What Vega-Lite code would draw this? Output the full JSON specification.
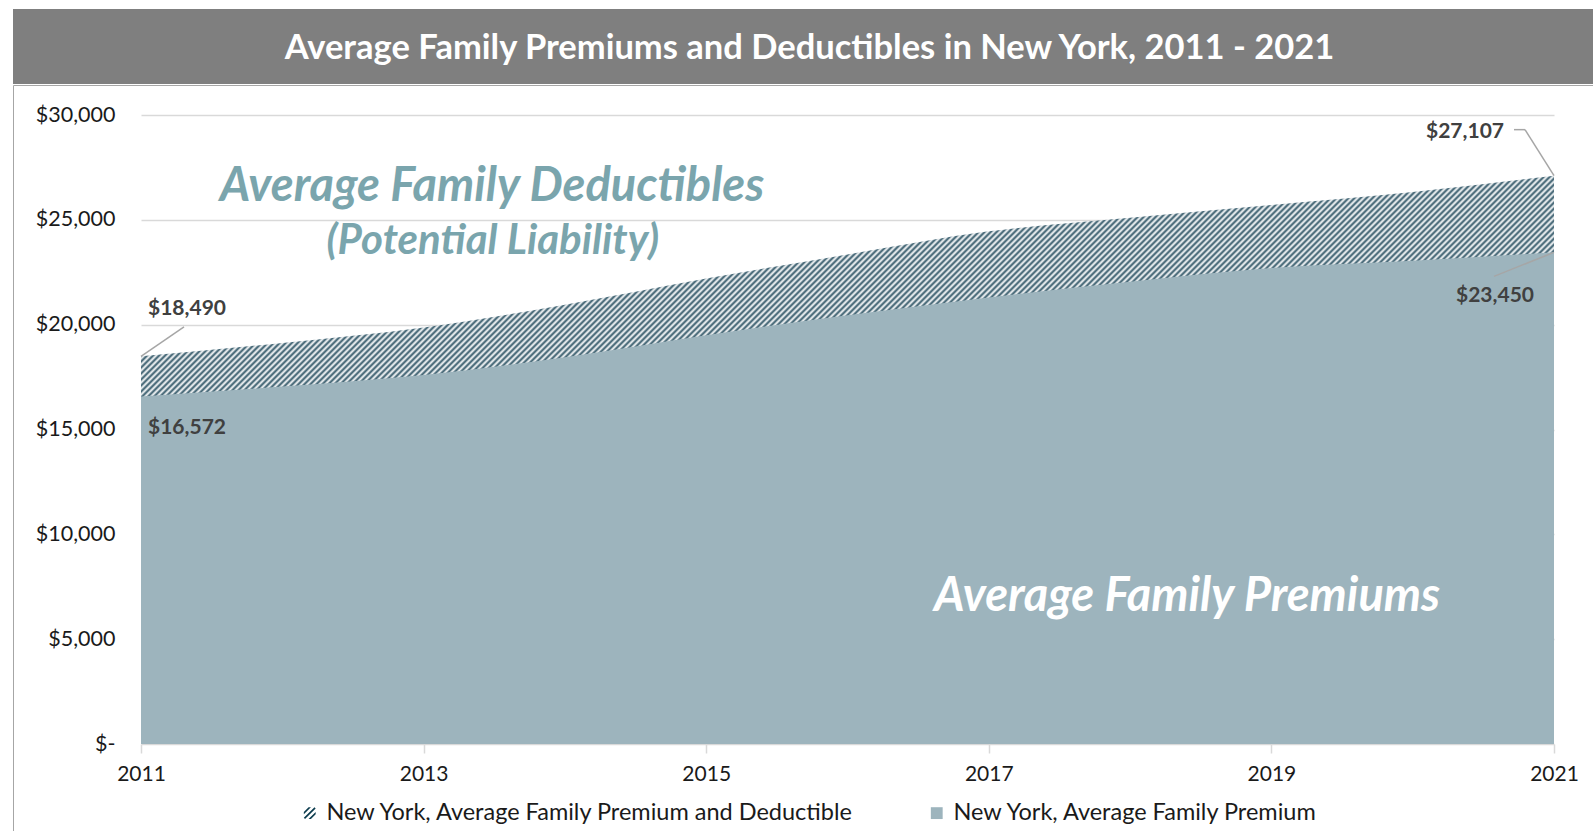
{
"$schema": "https://vega.github.io/schema/vega-lite/v6.json",
"padding": {"left": 12, "top": 9, "right": 0, "bottom": 0},
"spacing": 0,
"config": {"font": "Lato"},
"vconcat": [
{
"width": 1581, "height": 75,
"view": {"fill": "#7f7f7f", "stroke": null},
"data": {"values": [{}]},
"mark": {"type": "text", "font": "Lato", "fontSize": 34.5, "fontWeight": "bold", "color": "#ffffff", "align": "center", "baseline": "middle", "dy": 2, "dx": 6},
"encoding": {"text": {"value": "Average Family Premiums and Deductibles in New York, 2011 - 2021"}}
},
{
"width": 1580, "height": 746,
"view": {"stroke": "#a6a6a6", "strokeWidth": 1, "fill": "#ffffff"},
"data": {"values": [
{"year": 2011, "premium": 16572, "total": 18490},
{"year": 2012, "premium": 17050, "total": 19130},
{"year": 2013, "premium": 17600, "total": 19870},
{"year": 2014, "premium": 18450, "total": 20950},
{"year": 2015, "premium": 19500, "total": 22200},
{"year": 2016, "premium": 20450, "total": 23350},
{"year": 2017, "premium": 21300, "total": 24450},
{"year": 2018, "premium": 22050, "total": 25100},
{"year": 2019, "premium": 22700, "total": 25710},
{"year": 2020, "premium": 23050, "total": 26330},
{"year": 2021, "premium": 23450, "total": 27107}
]},
"layer": [
{
"data": {"values": [{"series": "New York, Average Family Premium and Deductible"}, {"series": "New York, Average Family Premium"}]},
"mark": {"type": "point", "filled": true, "size": 20, "opacity": 1},
"encoding": {
"color": {"field": "series", "type": "nominal", "scale": {"domain": ["New York, Average Family Premium and Deductible", "New York, Average Family Premium"], "range": ["#0b3b4d", "#9db4bd"]}, "legend": {"title": null, "orient": "none", "legendX": 285, "legendY": 792, "direction": "horizontal", "labelFont": "Lato", "labelFontSize": 23.5, "labelColor": "#1a1a1a", "labelLimit": 800, "symbolSize": 140, "symbolStrokeWidth": 0, "symbolOpacity": 1, "labelOffset": 5, "columnPadding": 70, "padding": 0}},
"shape": {"field": "series", "type": "nominal", "scale": {"domain": ["New York, Average Family Premium and Deductible", "New York, Average Family Premium"], "range": ["M-1,0.8L0.8,-1L1,-0.8L-0.8,1ZM-0.2,1L1,-0.2L1,0.2L0.2,1ZM-1,0.2L0.2,-1L-0.2,-1L-1,-0.2Z", "square"]}, "legend": {"title": null, "orient": "none", "legendX": 285, "legendY": 792, "direction": "horizontal", "labelFont": "Lato", "labelFontSize": 23.5, "labelColor": "#1a1a1a", "labelLimit": 800, "symbolSize": 140, "symbolStrokeWidth": 0, "symbolOpacity": 1, "labelOffset": 5, "columnPadding": 70, "padding": 0}}
}
},
{
"mark": {"type": "area", "interpolate": "monotone", "opacity": 1, "fill": {"gradient": "linear", "x1": 0, "y1": 0, "x2": 0.9137, "y2": 0.3675, "stops": [
{"offset":0.000,"color":"#2f5566"},{"offset":0.002,"color":"#fff"},{"offset":0.004,"color":"#2f5566"},{"offset":0.006,"color":"#fff"},{"offset":0.008,"color":"#2f5566"},{"offset":0.010,"color":"#fff"},{"offset":0.012,"color":"#2f5566"},{"offset":0.014,"color":"#fff"},{"offset":0.016,"color":"#2f5566"},{"offset":0.018,"color":"#fff"},
{"offset":0.020,"color":"#2f5566"},{"offset":0.022,"color":"#fff"},{"offset":0.024,"color":"#2f5566"},{"offset":0.026,"color":"#fff"},{"offset":0.028,"color":"#2f5566"},{"offset":0.030,"color":"#fff"},{"offset":0.032,"color":"#2f5566"},{"offset":0.034,"color":"#fff"},{"offset":0.036,"color":"#2f5566"},{"offset":0.038,"color":"#fff"},
{"offset":0.040,"color":"#2f5566"},{"offset":0.042,"color":"#fff"},{"offset":0.044,"color":"#2f5566"},{"offset":0.046,"color":"#fff"},{"offset":0.048,"color":"#2f5566"},{"offset":0.050,"color":"#fff"},{"offset":0.052,"color":"#2f5566"},{"offset":0.054,"color":"#fff"},{"offset":0.056,"color":"#2f5566"},{"offset":0.058,"color":"#fff"},
{"offset":0.060,"color":"#2f5566"},{"offset":0.062,"color":"#fff"},{"offset":0.064,"color":"#2f5566"},{"offset":0.066,"color":"#fff"},{"offset":0.068,"color":"#2f5566"},{"offset":0.070,"color":"#fff"},{"offset":0.072,"color":"#2f5566"},{"offset":0.074,"color":"#fff"},{"offset":0.076,"color":"#2f5566"},{"offset":0.078,"color":"#fff"},
{"offset":0.080,"color":"#2f5566"},{"offset":0.082,"color":"#fff"},{"offset":0.084,"color":"#2f5566"},{"offset":0.086,"color":"#fff"},{"offset":0.088,"color":"#2f5566"},{"offset":0.090,"color":"#fff"},{"offset":0.092,"color":"#2f5566"},{"offset":0.094,"color":"#fff"},{"offset":0.096,"color":"#2f5566"},{"offset":0.098,"color":"#fff"},
{"offset":0.100,"color":"#2f5566"},{"offset":0.102,"color":"#fff"},{"offset":0.104,"color":"#2f5566"},{"offset":0.106,"color":"#fff"},{"offset":0.108,"color":"#2f5566"},{"offset":0.110,"color":"#fff"},{"offset":0.112,"color":"#2f5566"},{"offset":0.114,"color":"#fff"},{"offset":0.116,"color":"#2f5566"},{"offset":0.118,"color":"#fff"},
{"offset":0.120,"color":"#2f5566"},{"offset":0.122,"color":"#fff"},{"offset":0.124,"color":"#2f5566"},{"offset":0.126,"color":"#fff"},{"offset":0.128,"color":"#2f5566"},{"offset":0.130,"color":"#fff"},{"offset":0.132,"color":"#2f5566"},{"offset":0.134,"color":"#fff"},{"offset":0.136,"color":"#2f5566"},{"offset":0.138,"color":"#fff"},
{"offset":0.140,"color":"#2f5566"},{"offset":0.142,"color":"#fff"},{"offset":0.144,"color":"#2f5566"},{"offset":0.146,"color":"#fff"},{"offset":0.148,"color":"#2f5566"},{"offset":0.150,"color":"#fff"},{"offset":0.152,"color":"#2f5566"},{"offset":0.154,"color":"#fff"},{"offset":0.156,"color":"#2f5566"},{"offset":0.158,"color":"#fff"},
{"offset":0.160,"color":"#2f5566"},{"offset":0.162,"color":"#fff"},{"offset":0.164,"color":"#2f5566"},{"offset":0.166,"color":"#fff"},{"offset":0.168,"color":"#2f5566"},{"offset":0.170,"color":"#fff"},{"offset":0.172,"color":"#2f5566"},{"offset":0.174,"color":"#fff"},{"offset":0.176,"color":"#2f5566"},{"offset":0.178,"color":"#fff"},
{"offset":0.180,"color":"#2f5566"},{"offset":0.182,"color":"#fff"},{"offset":0.184,"color":"#2f5566"},{"offset":0.186,"color":"#fff"},{"offset":0.188,"color":"#2f5566"},{"offset":0.190,"color":"#fff"},{"offset":0.192,"color":"#2f5566"},{"offset":0.194,"color":"#fff"},{"offset":0.196,"color":"#2f5566"},{"offset":0.198,"color":"#fff"},
{"offset":0.200,"color":"#2f5566"},{"offset":0.202,"color":"#fff"},{"offset":0.204,"color":"#2f5566"},{"offset":0.206,"color":"#fff"},{"offset":0.208,"color":"#2f5566"},{"offset":0.210,"color":"#fff"},{"offset":0.212,"color":"#2f5566"},{"offset":0.214,"color":"#fff"},{"offset":0.216,"color":"#2f5566"},{"offset":0.218,"color":"#fff"},
{"offset":0.220,"color":"#2f5566"},{"offset":0.222,"color":"#fff"},{"offset":0.224,"color":"#2f5566"},{"offset":0.226,"color":"#fff"},{"offset":0.228,"color":"#2f5566"},{"offset":0.230,"color":"#fff"},{"offset":0.232,"color":"#2f5566"},{"offset":0.234,"color":"#fff"},{"offset":0.236,"color":"#2f5566"},{"offset":0.238,"color":"#fff"},
{"offset":0.240,"color":"#2f5566"},{"offset":0.242,"color":"#fff"},{"offset":0.244,"color":"#2f5566"},{"offset":0.246,"color":"#fff"},{"offset":0.248,"color":"#2f5566"},{"offset":0.250,"color":"#fff"},{"offset":0.252,"color":"#2f5566"},{"offset":0.254,"color":"#fff"},{"offset":0.256,"color":"#2f5566"},{"offset":0.258,"color":"#fff"},
{"offset":0.260,"color":"#2f5566"},{"offset":0.262,"color":"#fff"},{"offset":0.264,"color":"#2f5566"},{"offset":0.266,"color":"#fff"},{"offset":0.268,"color":"#2f5566"},{"offset":0.270,"color":"#fff"},{"offset":0.272,"color":"#2f5566"},{"offset":0.274,"color":"#fff"},{"offset":0.276,"color":"#2f5566"},{"offset":0.278,"color":"#fff"},
{"offset":0.280,"color":"#2f5566"},{"offset":0.282,"color":"#fff"},{"offset":0.284,"color":"#2f5566"},{"offset":0.286,"color":"#fff"},{"offset":0.288,"color":"#2f5566"},{"offset":0.290,"color":"#fff"},{"offset":0.292,"color":"#2f5566"},{"offset":0.294,"color":"#fff"},{"offset":0.296,"color":"#2f5566"},{"offset":0.298,"color":"#fff"},
{"offset":0.300,"color":"#2f5566"},{"offset":0.302,"color":"#fff"},{"offset":0.304,"color":"#2f5566"},{"offset":0.306,"color":"#fff"},{"offset":0.308,"color":"#2f5566"},{"offset":0.310,"color":"#fff"},{"offset":0.312,"color":"#2f5566"},{"offset":0.314,"color":"#fff"},{"offset":0.316,"color":"#2f5566"},{"offset":0.318,"color":"#fff"},
{"offset":0.320,"color":"#2f5566"},{"offset":0.322,"color":"#fff"},{"offset":0.324,"color":"#2f5566"},{"offset":0.326,"color":"#fff"},{"offset":0.328,"color":"#2f5566"},{"offset":0.330,"color":"#fff"},{"offset":0.332,"color":"#2f5566"},{"offset":0.334,"color":"#fff"},{"offset":0.336,"color":"#2f5566"},{"offset":0.338,"color":"#fff"},
{"offset":0.340,"color":"#2f5566"},{"offset":0.342,"color":"#fff"},{"offset":0.344,"color":"#2f5566"},{"offset":0.346,"color":"#fff"},{"offset":0.348,"color":"#2f5566"},{"offset":0.350,"color":"#fff"},{"offset":0.352,"color":"#2f5566"},{"offset":0.354,"color":"#fff"},{"offset":0.356,"color":"#2f5566"},{"offset":0.358,"color":"#fff"},
{"offset":0.360,"color":"#2f5566"},{"offset":0.362,"color":"#fff"},{"offset":0.364,"color":"#2f5566"},{"offset":0.366,"color":"#fff"},{"offset":0.368,"color":"#2f5566"},{"offset":0.370,"color":"#fff"},{"offset":0.372,"color":"#2f5566"},{"offset":0.374,"color":"#fff"},{"offset":0.376,"color":"#2f5566"},{"offset":0.378,"color":"#fff"},
{"offset":0.380,"color":"#2f5566"},{"offset":0.382,"color":"#fff"},{"offset":0.384,"color":"#2f5566"},{"offset":0.386,"color":"#fff"},{"offset":0.388,"color":"#2f5566"},{"offset":0.390,"color":"#fff"},{"offset":0.392,"color":"#2f5566"},{"offset":0.394,"color":"#fff"},{"offset":0.396,"color":"#2f5566"},{"offset":0.398,"color":"#fff"},
{"offset":0.400,"color":"#2f5566"},{"offset":0.402,"color":"#fff"},{"offset":0.404,"color":"#2f5566"},{"offset":0.406,"color":"#fff"},{"offset":0.408,"color":"#2f5566"},{"offset":0.410,"color":"#fff"},{"offset":0.412,"color":"#2f5566"},{"offset":0.414,"color":"#fff"},{"offset":0.416,"color":"#2f5566"},{"offset":0.418,"color":"#fff"},
{"offset":0.420,"color":"#2f5566"},{"offset":0.422,"color":"#fff"},{"offset":0.424,"color":"#2f5566"},{"offset":0.426,"color":"#fff"},{"offset":0.428,"color":"#2f5566"},{"offset":0.430,"color":"#fff"},{"offset":0.432,"color":"#2f5566"},{"offset":0.434,"color":"#fff"},{"offset":0.436,"color":"#2f5566"},{"offset":0.438,"color":"#fff"},
{"offset":0.440,"color":"#2f5566"},{"offset":0.442,"color":"#fff"},{"offset":0.444,"color":"#2f5566"},{"offset":0.446,"color":"#fff"},{"offset":0.448,"color":"#2f5566"},{"offset":0.450,"color":"#fff"},{"offset":0.452,"color":"#2f5566"},{"offset":0.454,"color":"#fff"},{"offset":0.456,"color":"#2f5566"},{"offset":0.458,"color":"#fff"},
{"offset":0.460,"color":"#2f5566"},{"offset":0.462,"color":"#fff"},{"offset":0.464,"color":"#2f5566"},{"offset":0.466,"color":"#fff"},{"offset":0.468,"color":"#2f5566"},{"offset":0.470,"color":"#fff"},{"offset":0.472,"color":"#2f5566"},{"offset":0.474,"color":"#fff"},{"offset":0.476,"color":"#2f5566"},{"offset":0.478,"color":"#fff"},
{"offset":0.480,"color":"#2f5566"},{"offset":0.482,"color":"#fff"},{"offset":0.484,"color":"#2f5566"},{"offset":0.486,"color":"#fff"},{"offset":0.488,"color":"#2f5566"},{"offset":0.490,"color":"#fff"},{"offset":0.492,"color":"#2f5566"},{"offset":0.494,"color":"#fff"},{"offset":0.496,"color":"#2f5566"},{"offset":0.498,"color":"#fff"},
{"offset":0.500,"color":"#2f5566"},{"offset":0.502,"color":"#fff"},{"offset":0.504,"color":"#2f5566"},{"offset":0.506,"color":"#fff"},{"offset":0.508,"color":"#2f5566"},{"offset":0.510,"color":"#fff"},{"offset":0.512,"color":"#2f5566"},{"offset":0.514,"color":"#fff"},{"offset":0.516,"color":"#2f5566"},{"offset":0.518,"color":"#fff"},
{"offset":0.520,"color":"#2f5566"},{"offset":0.522,"color":"#fff"},{"offset":0.524,"color":"#2f5566"},{"offset":0.526,"color":"#fff"},{"offset":0.528,"color":"#2f5566"},{"offset":0.530,"color":"#fff"},{"offset":0.532,"color":"#2f5566"},{"offset":0.534,"color":"#fff"},{"offset":0.536,"color":"#2f5566"},{"offset":0.538,"color":"#fff"},
{"offset":0.540,"color":"#2f5566"},{"offset":0.542,"color":"#fff"},{"offset":0.544,"color":"#2f5566"},{"offset":0.546,"color":"#fff"},{"offset":0.548,"color":"#2f5566"},{"offset":0.550,"color":"#fff"},{"offset":0.552,"color":"#2f5566"},{"offset":0.554,"color":"#fff"},{"offset":0.556,"color":"#2f5566"},{"offset":0.558,"color":"#fff"},
{"offset":0.560,"color":"#2f5566"},{"offset":0.562,"color":"#fff"},{"offset":0.564,"color":"#2f5566"},{"offset":0.566,"color":"#fff"},{"offset":0.568,"color":"#2f5566"},{"offset":0.570,"color":"#fff"},{"offset":0.572,"color":"#2f5566"},{"offset":0.574,"color":"#fff"},{"offset":0.576,"color":"#2f5566"},{"offset":0.578,"color":"#fff"},
{"offset":0.580,"color":"#2f5566"},{"offset":0.582,"color":"#fff"},{"offset":0.584,"color":"#2f5566"},{"offset":0.586,"color":"#fff"},{"offset":0.588,"color":"#2f5566"},{"offset":0.590,"color":"#fff"},{"offset":0.592,"color":"#2f5566"},{"offset":0.594,"color":"#fff"},{"offset":0.596,"color":"#2f5566"},{"offset":0.598,"color":"#fff"},
{"offset":0.600,"color":"#2f5566"},{"offset":0.602,"color":"#fff"},{"offset":0.604,"color":"#2f5566"},{"offset":0.606,"color":"#fff"},{"offset":0.608,"color":"#2f5566"},{"offset":0.610,"color":"#fff"},{"offset":0.612,"color":"#2f5566"},{"offset":0.614,"color":"#fff"},{"offset":0.616,"color":"#2f5566"},{"offset":0.618,"color":"#fff"},
{"offset":0.620,"color":"#2f5566"},{"offset":0.622,"color":"#fff"},{"offset":0.624,"color":"#2f5566"},{"offset":0.626,"color":"#fff"},{"offset":0.628,"color":"#2f5566"},{"offset":0.630,"color":"#fff"},{"offset":0.632,"color":"#2f5566"},{"offset":0.634,"color":"#fff"},{"offset":0.636,"color":"#2f5566"},{"offset":0.638,"color":"#fff"},
{"offset":0.640,"color":"#2f5566"},{"offset":0.642,"color":"#fff"},{"offset":0.644,"color":"#2f5566"},{"offset":0.646,"color":"#fff"},{"offset":0.648,"color":"#2f5566"},{"offset":0.650,"color":"#fff"},{"offset":0.652,"color":"#2f5566"},{"offset":0.654,"color":"#fff"},{"offset":0.656,"color":"#2f5566"},{"offset":0.658,"color":"#fff"},
{"offset":0.660,"color":"#2f5566"},{"offset":0.662,"color":"#fff"},{"offset":0.664,"color":"#2f5566"},{"offset":0.666,"color":"#fff"},{"offset":0.668,"color":"#2f5566"},{"offset":0.670,"color":"#fff"},{"offset":0.672,"color":"#2f5566"},{"offset":0.674,"color":"#fff"},{"offset":0.676,"color":"#2f5566"},{"offset":0.678,"color":"#fff"},
{"offset":0.680,"color":"#2f5566"},{"offset":0.682,"color":"#fff"},{"offset":0.684,"color":"#2f5566"},{"offset":0.686,"color":"#fff"},{"offset":0.688,"color":"#2f5566"},{"offset":0.690,"color":"#fff"},{"offset":0.692,"color":"#2f5566"},{"offset":0.694,"color":"#fff"},{"offset":0.696,"color":"#2f5566"},{"offset":0.698,"color":"#fff"},
{"offset":0.700,"color":"#2f5566"},{"offset":0.702,"color":"#fff"},{"offset":0.704,"color":"#2f5566"},{"offset":0.706,"color":"#fff"},{"offset":0.708,"color":"#2f5566"},{"offset":0.710,"color":"#fff"},{"offset":0.712,"color":"#2f5566"},{"offset":0.714,"color":"#fff"},{"offset":0.716,"color":"#2f5566"},{"offset":0.718,"color":"#fff"},
{"offset":0.720,"color":"#2f5566"},{"offset":0.722,"color":"#fff"},{"offset":0.724,"color":"#2f5566"},{"offset":0.726,"color":"#fff"},{"offset":0.728,"color":"#2f5566"},{"offset":0.730,"color":"#fff"},{"offset":0.732,"color":"#2f5566"},{"offset":0.734,"color":"#fff"},{"offset":0.736,"color":"#2f5566"},{"offset":0.738,"color":"#fff"},
{"offset":0.740,"color":"#2f5566"},{"offset":0.742,"color":"#fff"},{"offset":0.744,"color":"#2f5566"},{"offset":0.746,"color":"#fff"},{"offset":0.748,"color":"#2f5566"},{"offset":0.750,"color":"#fff"},{"offset":0.752,"color":"#2f5566"},{"offset":0.754,"color":"#fff"},{"offset":0.756,"color":"#2f5566"},{"offset":0.758,"color":"#fff"},
{"offset":0.760,"color":"#2f5566"},{"offset":0.762,"color":"#fff"},{"offset":0.764,"color":"#2f5566"},{"offset":0.766,"color":"#fff"},{"offset":0.768,"color":"#2f5566"},{"offset":0.770,"color":"#fff"},{"offset":0.772,"color":"#2f5566"},{"offset":0.774,"color":"#fff"},{"offset":0.776,"color":"#2f5566"},{"offset":0.778,"color":"#fff"},
{"offset":0.780,"color":"#2f5566"},{"offset":0.782,"color":"#fff"},{"offset":0.784,"color":"#2f5566"},{"offset":0.786,"color":"#fff"},{"offset":0.788,"color":"#2f5566"},{"offset":0.790,"color":"#fff"},{"offset":0.792,"color":"#2f5566"},{"offset":0.794,"color":"#fff"},{"offset":0.796,"color":"#2f5566"},{"offset":0.798,"color":"#fff"},
{"offset":0.800,"color":"#2f5566"},{"offset":0.802,"color":"#fff"},{"offset":0.804,"color":"#2f5566"},{"offset":0.806,"color":"#fff"},{"offset":0.808,"color":"#2f5566"},{"offset":0.810,"color":"#fff"},{"offset":0.812,"color":"#2f5566"},{"offset":0.814,"color":"#fff"},{"offset":0.816,"color":"#2f5566"},{"offset":0.818,"color":"#fff"},
{"offset":0.820,"color":"#2f5566"},{"offset":0.822,"color":"#fff"},{"offset":0.824,"color":"#2f5566"},{"offset":0.826,"color":"#fff"},{"offset":0.828,"color":"#2f5566"},{"offset":0.830,"color":"#fff"},{"offset":0.832,"color":"#2f5566"},{"offset":0.834,"color":"#fff"},{"offset":0.836,"color":"#2f5566"},{"offset":0.838,"color":"#fff"},
{"offset":0.840,"color":"#2f5566"},{"offset":0.842,"color":"#fff"},{"offset":0.844,"color":"#2f5566"},{"offset":0.846,"color":"#fff"},{"offset":0.848,"color":"#2f5566"},{"offset":0.850,"color":"#fff"},{"offset":0.852,"color":"#2f5566"},{"offset":0.854,"color":"#fff"},{"offset":0.856,"color":"#2f5566"},{"offset":0.858,"color":"#fff"},
{"offset":0.860,"color":"#2f5566"},{"offset":0.862,"color":"#fff"},{"offset":0.864,"color":"#2f5566"},{"offset":0.866,"color":"#fff"},{"offset":0.868,"color":"#2f5566"},{"offset":0.870,"color":"#fff"},{"offset":0.872,"color":"#2f5566"},{"offset":0.874,"color":"#fff"},{"offset":0.876,"color":"#2f5566"},{"offset":0.878,"color":"#fff"},
{"offset":0.880,"color":"#2f5566"},{"offset":0.882,"color":"#fff"},{"offset":0.884,"color":"#2f5566"},{"offset":0.886,"color":"#fff"},{"offset":0.888,"color":"#2f5566"},{"offset":0.890,"color":"#fff"},{"offset":0.892,"color":"#2f5566"},{"offset":0.894,"color":"#fff"},{"offset":0.896,"color":"#2f5566"},{"offset":0.898,"color":"#fff"},
{"offset":0.900,"color":"#2f5566"},{"offset":0.902,"color":"#fff"},{"offset":0.904,"color":"#2f5566"},{"offset":0.906,"color":"#fff"},{"offset":0.908,"color":"#2f5566"},{"offset":0.910,"color":"#fff"},{"offset":0.912,"color":"#2f5566"},{"offset":0.914,"color":"#fff"},{"offset":0.916,"color":"#2f5566"},{"offset":0.918,"color":"#fff"},
{"offset":0.920,"color":"#2f5566"},{"offset":0.922,"color":"#fff"},{"offset":0.924,"color":"#2f5566"},{"offset":0.926,"color":"#fff"},{"offset":0.928,"color":"#2f5566"},{"offset":0.930,"color":"#fff"},{"offset":0.932,"color":"#2f5566"},{"offset":0.934,"color":"#fff"},{"offset":0.936,"color":"#2f5566"},{"offset":0.938,"color":"#fff"},
{"offset":0.940,"color":"#2f5566"},{"offset":0.942,"color":"#fff"},{"offset":0.944,"color":"#2f5566"},{"offset":0.946,"color":"#fff"},{"offset":0.948,"color":"#2f5566"},{"offset":0.950,"color":"#fff"},{"offset":0.952,"color":"#2f5566"},{"offset":0.954,"color":"#fff"},{"offset":0.956,"color":"#2f5566"},{"offset":0.958,"color":"#fff"},
{"offset":0.960,"color":"#2f5566"},{"offset":0.962,"color":"#fff"},{"offset":0.964,"color":"#2f5566"},{"offset":0.966,"color":"#fff"},{"offset":0.968,"color":"#2f5566"},{"offset":0.970,"color":"#fff"},{"offset":0.972,"color":"#2f5566"},{"offset":0.974,"color":"#fff"},{"offset":0.976,"color":"#2f5566"},{"offset":0.978,"color":"#fff"},
{"offset":0.980,"color":"#2f5566"},{"offset":0.982,"color":"#fff"},{"offset":0.984,"color":"#2f5566"},{"offset":0.986,"color":"#fff"},{"offset":0.988,"color":"#2f5566"},{"offset":0.990,"color":"#fff"},{"offset":0.992,"color":"#2f5566"},{"offset":0.994,"color":"#fff"},{"offset":0.996,"color":"#2f5566"},{"offset":0.998,"color":"#fff"},
{"offset":1.000,"color":"#2f5566"}
]}},
"encoding": {
"x": {"field": "year", "type": "quantitative", "scale": {"domain": [2011, 2021], "range": [128, 1541], "nice": false, "zero": false},
"axis": {"title": null, "values": [2011, 2013, 2015, 2017, 2019, 2021], "format": "d", "offset": -87, "grid": false, "domain": false, "ticks": true, "tickColor": "#d9d9d9", "tickSize": 9, "tickWidth": 1.5, "labelPadding": 10, "labelFlush": false, "labelFont": "Lato", "labelFontSize": 21, "labelColor": "#1a1a1a"}},
"y": {"field": "total", "type": "quantitative", "scale": {"domain": [0, 30000], "range": [659, 30], "nice": false},
"axis": {"title": null, "values": [0, 5000, 10000, 15000, 20000, 25000, 30000], "labelExpr": "datum.value === 0 ? '$-\u00a0\u00a0' : '$' + format(datum.value, ',')", "offset": -102, "minExtent": 0, "grid": true, "gridColor": "#d9d9d9", "gridWidth": 1.5, "domain": false, "ticks": false, "labelPadding": 0, "labelFont": "Lato", "labelFontSize": 21.5, "labelColor": "#1a1a1a"}}
}
},
{
"mark": {"type": "area", "interpolate": "monotone", "color": "#9db4bd", "opacity": 1},
"encoding": {"x": {"field": "year", "type": "quantitative"}, "y": {"field": "premium", "type": "quantitative"}}
},
{
"transform": [{"filter": "datum.year === 2011"}],
"mark": {"type": "text", "font": "Lato", "fontSize": 21, "fontWeight": "bold", "color": "#404040", "align": "left", "baseline": "middle", "dx": 7, "dy": -47},
"encoding": {"x": {"field": "year", "type": "quantitative"}, "y": {"field": "total", "type": "quantitative"}, "text": {"field": "total", "format": "$,.0f"}}
},
{
"transform": [{"filter": "datum.year === 2011"}],
"mark": {"type": "text", "font": "Lato", "fontSize": 21, "fontWeight": "bold", "color": "#404040", "align": "left", "baseline": "middle", "dx": 7, "dy": 31},
"encoding": {"x": {"field": "year", "type": "quantitative"}, "y": {"field": "premium", "type": "quantitative"}, "text": {"field": "premium", "format": "$,.0f"}}
},
{
"transform": [{"filter": "datum.year === 2021"}],
"mark": {"type": "text", "font": "Lato", "fontSize": 21, "fontWeight": "bold", "color": "#404040", "align": "right", "baseline": "middle", "dx": -50, "dy": -44},
"encoding": {"x": {"field": "year", "type": "quantitative"}, "y": {"field": "total", "type": "quantitative"}, "text": {"field": "total", "format": "$,.0f"}}
},
{
"transform": [{"filter": "datum.year === 2021"}],
"mark": {"type": "text", "font": "Lato", "fontSize": 21, "fontWeight": "bold", "color": "#404040", "align": "right", "baseline": "middle", "dx": -20, "dy": 44},
"encoding": {"x": {"field": "year", "type": "quantitative"}, "y": {"field": "premium", "type": "quantitative"}, "text": {"field": "premium", "format": "$,.0f"}}
},
{
"transform": [{"filter": "datum.year === 2011"}],
"mark": {"type": "rule", "color": "#a6a6a6", "strokeWidth": 1.5, "x2Offset": 43, "y2Offset": -29.5},
"encoding": {"x": {"field": "year", "type": "quantitative"}, "y": {"field": "total", "type": "quantitative"}, "x2": {"field": "year"}, "y2": {"field": "total"}}
},
{
"transform": [{"filter": "datum.year === 2021"}],
"mark": {"type": "rule", "color": "#a6a6a6", "strokeWidth": 1.5, "x2Offset": -29, "y2Offset": -46},
"encoding": {"x": {"field": "year", "type": "quantitative"}, "y": {"field": "total", "type": "quantitative"}, "x2": {"field": "year"}, "y2": {"field": "total"}}
},
{
"transform": [{"filter": "datum.year === 2021"}],
"mark": {"type": "rule", "color": "#a6a6a6", "strokeWidth": 1.5, "xOffset": -29, "yOffset": -46, "x2Offset": -40, "y2Offset": -46},
"encoding": {"x": {"field": "year", "type": "quantitative"}, "y": {"field": "total", "type": "quantitative"}, "x2": {"field": "year"}, "y2": {"field": "total"}}
},
{
"transform": [{"filter": "datum.year === 2021"}],
"mark": {"type": "rule", "color": "#a6a6a6", "strokeWidth": 1.5, "x2Offset": -60, "y2Offset": 24},
"encoding": {"x": {"field": "year", "type": "quantitative"}, "y": {"field": "premium", "type": "quantitative"}, "x2": {"field": "year"}, "y2": {"field": "premium"}}
},
{
"data": {"values": [{"label": "Average Family Deductibles"}]},
"mark": {"type": "text", "font": "Lato", "fontSize": 47, "fontWeight": "bold", "fontStyle": "italic", "color": "#7aa5ad", "align": "center", "baseline": "middle"},
"encoding": {"x": {"datum": 2013.484, "type": "quantitative"}, "y": {"datum": 26566, "type": "quantitative"}, "text": {"field": "label"}}
},
{
"data": {"values": [{"label": "(Potential Liability)"}]},
"mark": {"type": "text", "font": "Lato", "fontSize": 42, "fontWeight": "bold", "fontStyle": "italic", "color": "#7aa5ad", "align": "center", "baseline": "middle"},
"encoding": {"x": {"datum": 2013.49, "type": "quantitative"}, "y": {"datum": 23990, "type": "quantitative"}, "text": {"field": "label"}}
},
{
"data": {"values": [{"label": "Average Family Premiums"}]},
"mark": {"type": "text", "font": "Lato", "fontSize": 47, "fontWeight": "bold", "fontStyle": "italic", "color": "#ffffff", "align": "center", "baseline": "middle"},
"encoding": {"x": {"datum": 2018.403, "type": "quantitative"}, "y": {"datum": 7011, "type": "quantitative"}, "text": {"field": "label"}}
}
]
}
]
}
